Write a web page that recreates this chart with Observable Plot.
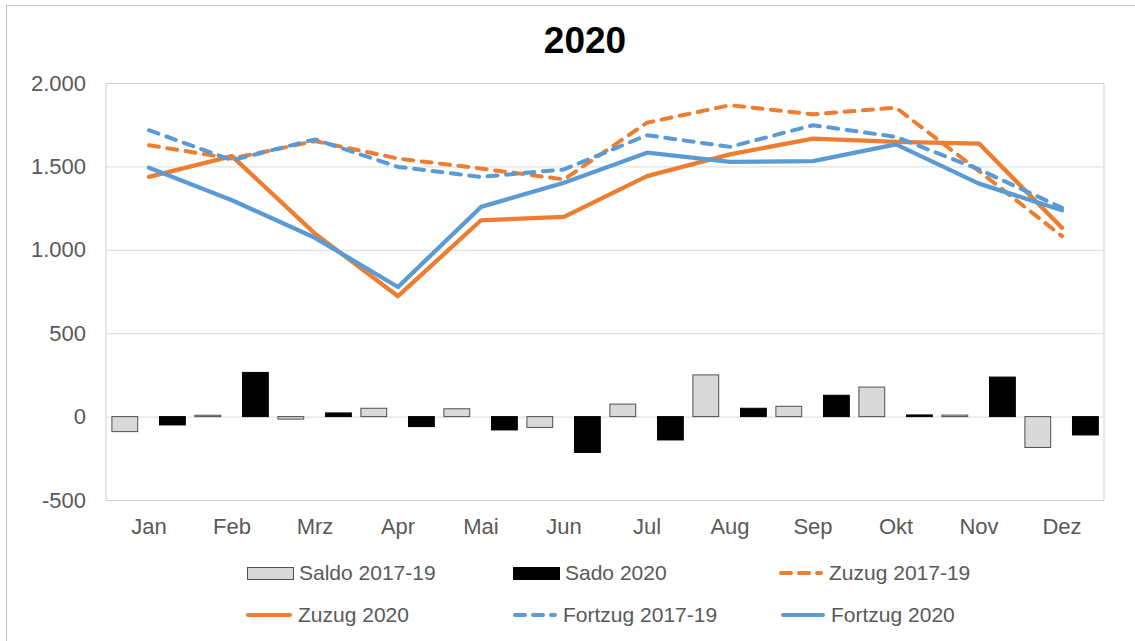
<!DOCTYPE html>
<html>
<head>
<meta charset="utf-8">
<script src="https://cdn.jsdelivr.net/npm/d3@7"></script>
<script src="https://cdn.jsdelivr.net/npm/@observablehq/plot@0.6"></script>
<style>
  html, body { margin: 0; padding: 0; background: #fff; }
  body { width: 1135px; height: 641px; overflow: hidden; position: relative;
         font-family: "Liberation Sans", Arial, sans-serif; }
  #border { position: absolute; left: 6px; top: 5px; width: 1200px; height: 700px;
            border-left: 1px solid #c4c4c4; border-top: 1px solid #c4c4c4; }
  #title { height: 43px; padding-top: 22px; padding-left: 35px; text-align: center;
           font-size: 37px; line-height: 37px; font-weight: bold; color: #000; }
  #chart svg { display: block; }
  #legend { position: relative; height: 91px; }
  .item { position: absolute; height: 24px; display: flex; align-items: center;
          font-size: 21px; color: #595959; white-space: nowrap; }
  .item svg { display: block; margin-right: 4px; }
</style>
</head>
<body>
<div id="border"></div>
<div id="title">2020</div>
<div id="chart"></div>
<div id="legend"></div>
<script>
const months = ["Jan","Feb","Mrz","Apr","Mai","Jun","Jul","Aug","Sep","Okt","Nov","Dez"];
const saldo1719   = [-90, 8, -15, 50, 47, -65, 75, 250, 62, 177, 9, -185];
const sado2020    = [-50, 265, 22, -60, -80, -215, -140, 50, 128, 10, 237, -110];
const zuzug1719   = [1630, 1550, 1655, 1550, 1490, 1425, 1765, 1870, 1815, 1855, 1475, 1085];
const zuzug2020   = [1440, 1565, 1100, 725, 1180, 1200, 1445, 1575, 1670, 1650, 1640, 1135];
const fortzug1719 = [1720, 1540, 1665, 1500, 1440, 1485, 1690, 1620, 1750, 1680, 1485, 1255];
const fortzug2020 = [1495, 1300, 1075, 780, 1260, 1405, 1585, 1530, 1535, 1635, 1400, 1240];
const yTicks = [-500, 0, 500, 1000, 1500, 2000];
const seriesNames = ["Saldo 2017-19", "Sado 2020", "Zuzug 2017-19", "Zuzug 2020", "Fortzug 2017-19", "Fortzug 2020"];

const ORANGE = "#ED7D31", BLUE = "#5B9BD5";
const fmt = d3.formatLocale({decimal: ",", thousands: ".", grouping: [3], currency: ["", "€"], minus: "-"}).format(",d");
const rows = arr => months.map((m, i) => ({month: m, value: arr[i]}));

const bw = 998 / 12;
const barW = 26;
const inset = (bw - barW) / 2;

const plot = Plot.plot({
  width: 1135,
  height: 485,
  marginTop: 18,
  marginBottom: 50,
  marginLeft: 105.5,
  marginRight: 31.5,
  style: {fontFamily: '"Liberation Sans", Arial, sans-serif', color: "#595959", background: "transparent"},
  x: {type: "band", domain: months, padding: 0, label: null},
  y: {domain: [-500, 2000], label: null},
  marks: [
    Plot.ruleY(yTicks, {stroke: "#d9d9d9", strokeWidth: 1}),
    Plot.frame({stroke: "#cfcfcf", strokeWidth: 1}),
    Plot.barY(rows(saldo1719), {x: "month", y: "value", fill: "#d9d9d9", stroke: "#505050", strokeWidth: 1,
      insetLeft: inset, insetRight: inset, dx: -23.7}),
    Plot.barY(rows(sado2020), {x: "month", y: "value", fill: "#000", stroke: "#000", strokeWidth: 1,
      insetLeft: inset, insetRight: inset, dx: 23.9}),
    Plot.line(rows(zuzug1719), {x: "month", y: "value", stroke: ORANGE, strokeWidth: 4,
      strokeDasharray: "10,8.5", strokeLinecap: "round", strokeLinejoin: "round"}),
    Plot.line(rows(zuzug2020), {x: "month", y: "value", stroke: ORANGE, strokeWidth: 4.3,
      strokeLinecap: "round", strokeLinejoin: "round"}),
    Plot.line(rows(fortzug1719), {x: "month", y: "value", stroke: BLUE, strokeWidth: 4,
      strokeDasharray: "10,8.5", strokeLinecap: "round", strokeLinejoin: "round"}),
    Plot.line(rows(fortzug2020), {x: "month", y: "value", stroke: BLUE, strokeWidth: 4.3,
      strokeLinecap: "round", strokeLinejoin: "round"}),
    Plot.axisY({ticks: yTicks, tickFormat: fmt, tickSize: 0, tickPadding: 20, fontSize: 22, label: null}),
    Plot.axisX({tickSize: 0, tickPadding: 18, fontSize: 22, label: null})
  ]
});
document.getElementById("chart").appendChild(plot);

// Legend
const legendSpecs = [
  {left: 247, top: 11, kind: "box", fill: "#d9d9d9", stroke: "#505050"},
  {left: 513, top: 11, kind: "box", fill: "#000", stroke: "#000"},
  {left: 777, top: 11, kind: "line", color: ORANGE, dash: true},
  {left: 244, top: 53, kind: "line", color: ORANGE, dash: false},
  {left: 511, top: 53, kind: "line", color: BLUE, dash: true},
  {left: 779, top: 53, kind: "line", color: BLUE, dash: false}
];
const legend = document.getElementById("legend");
legendSpecs.forEach((s, i) => {
  const item = document.createElement("div");
  item.className = "item";
  item.style.left = s.left + "px";
  item.style.top = s.top + "px";
  let sw;
  if (s.kind === "box") {
    sw = `<svg width="48" height="24"><rect x="0.5" y="6.5" width="46" height="12" fill="${s.fill}" stroke="${s.stroke}" stroke-width="1"/></svg>`;
  } else {
    const w = s.left === 244 ? 50 : 48;
    sw = `<svg width="${w}" height="24"><line x1="4" y1="12" x2="${w - 4}" y2="12" stroke="${s.color}" stroke-width="4" stroke-linecap="round" ${s.dash ? 'stroke-dasharray="10,8"' : ''}/></svg>`;
  }
  item.innerHTML = sw + `<span>${seriesNames[i]}</span>`;
  legend.appendChild(item);
});
</script>
</body>
</html>
